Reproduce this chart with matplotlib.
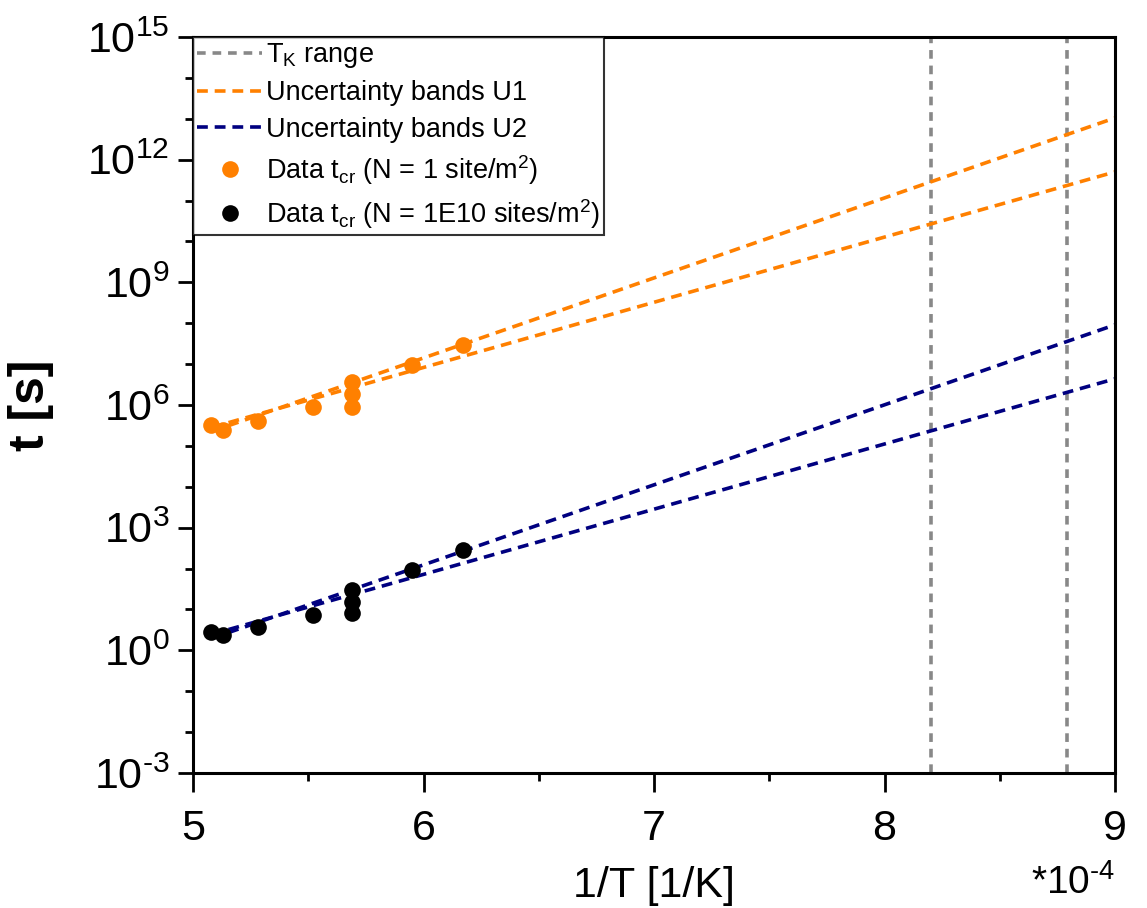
import numpy as np
import matplotlib
matplotlib.use("Agg")
import matplotlib.pyplot as plt
from matplotlib.ticker import FixedLocator, FuncFormatter, NullFormatter

plt.rcParams['font.family'] = ['Liberation Sans', 'DejaVu Sans']
plt.rcParams['mathtext.default'] = 'regular'

# inverse temperature (in units of 1e-4 1/K) of the data points
inv_t = [5.08, 5.13, 5.28, 5.52, 5.69, 5.69, 5.69, 5.95, 6.17]
# log10 of critical time
log_tcr_n1 = [5.52, 5.40, 5.62, 5.95, 6.55, 6.28, 5.95, 6.98, 7.47]
log_tcr_n1e10 = [0.45, 0.38, 0.57, 0.87, 1.48, 1.19, 0.92, 1.97, 2.46]

# uncertainty bands (end points, log10 t)
band_x = [5.08, 9.0]
u1_a = [5.35, 13.02]
u1_b = [5.45, 11.70]
u2_a = [0.29, 7.96]
u2_b = [0.39, 6.64]

# Kondo temperature range in 1/T
tk_range = [8.2, 8.79]

orange = '#FF8000'
navy = '#000080'
grey = '#888888'

fig = plt.figure(figsize=(11.47, 9.08), dpi=100)
ax = fig.add_axes([0.1683, 0.1487, 0.9721 - 0.1683, 0.9593 - 0.1487])

dash = (3.0, 1.9)
for i, xv in enumerate(tk_range):
    ax.axvline(xv, color=grey, lw=2.6, ls=(0, (2.4, 1.9)),
               label='T$_\\mathregular{K}$ range' if i == 0 else None, zorder=1)

ax.plot(band_x, 10 ** np.array(u1_a), color=orange, lw=2.6, ls=(0, dash),
        label='Uncertainty bands U1', zorder=2)
ax.plot(band_x, 10 ** np.array(u1_b), color=orange, lw=2.6, ls=(0, dash), zorder=2)
ax.plot(band_x, 10 ** np.array(u2_a), color=navy, lw=2.6, ls=(0, dash),
        label='Uncertainty bands U2', zorder=2)
ax.plot(band_x, 10 ** np.array(u2_b), color=navy, lw=2.6, ls=(0, dash), zorder=2)

ax.plot(inv_t, 10 ** np.array(log_tcr_n1), 'o', color=orange, ms=12, mec='none',
        label='Data t$_{cr}$ (N = 1 site/m$^2$)', zorder=3)
ax.plot(inv_t, 10 ** np.array(log_tcr_n1e10), 'o', color='black', ms=12, mec='none',
        label='Data t$_{cr}$ (N = 1E10 sites/m$^2$)', zorder=3)

ax.set_yscale('log')
ax.set_xlim(5, 9)
ax.set_ylim(1e-3, 1e15)

ax.yaxis.set_major_locator(FixedLocator([10.0 ** k for k in range(-3, 16, 3)]))
ax.yaxis.set_minor_locator(FixedLocator([10.0 ** k for k in range(-3, 16) if k % 3]))
ax.yaxis.set_major_formatter(
    FuncFormatter(lambda v, p: '10$^{%s}$' % str(round(np.log10(v))).replace('-', '\u2010')))
ax.yaxis.set_minor_formatter(NullFormatter())
ax.set_xticks([5, 6, 7, 8, 9])
ax.set_xticks([5.5, 6.5, 7.5, 8.5], minor=True)

ax.tick_params(which='major', direction='out', length=11, width=2, labelsize=31)
ax.tick_params(axis='x', which='major', length=14, pad=12)
ax.tick_params(axis='y', which='major', pad=6)
ax.tick_params(which='minor', direction='out', length=6, width=2)
for s in ax.spines.values():
    s.set_linewidth(2.2)

ax.set_xlabel('1/T [1/K]', fontsize=31, labelpad=12)
ax.set_ylabel('t [s]', fontsize=36, fontweight='bold', labelpad=24)
ax.text(1.0, -0.15, '*10$^{\u20104}$', transform=ax.transAxes, fontsize=28,
        ha='right', va='center')

leg = ax.legend(loc='upper left', fontsize=19.5, frameon=True, fancybox=False,
                edgecolor='black', borderaxespad=0, handlelength=2.4,
                handletextpad=0.15, labelspacing=0.38, borderpad=0.15)
leg.get_frame().set_linewidth(1.5)

fig.savefig('out.png', dpi=100)
